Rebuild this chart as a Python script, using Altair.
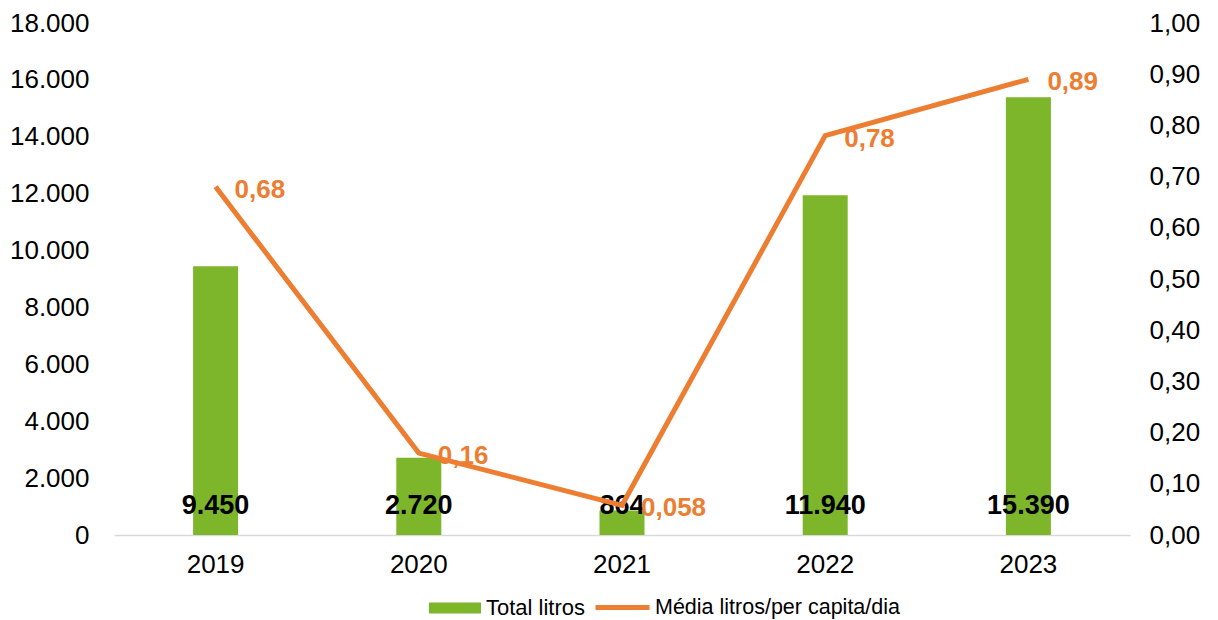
import altair as alt
import pandas as pd

years = ["2019", "2020", "2021", "2022", "2023"]
total_litros = [9450, 2720, 864, 11940, 15390]
media_litros = [0.68, 0.16, 0.058, 0.78, 0.89]
left_ticks = [0, 2000, 4000, 6000, 8000, 10000, 12000, 14000, 16000, 18000]
right_ticks = [0.0, 0.1, 0.2, 0.3, 0.4, 0.5, 0.6, 0.7, 0.8, 0.9, 1.0]
series_bar = "Total litros"
series_line = "Média litros/per capita/dia"

GREEN = "#7DB52B"
ORANGE = "#ED7D31"
FONT = "Liberation Sans"

df = pd.DataFrame({
    "year": years,
    "total": total_litros,
    "media": media_litros,
    "total_lbl": [f"{v:,}".replace(",", ".") for v in total_litros],
    "media_lbl": [str(v).replace(".", ",") for v in media_litros],
    "s_bar": series_bar,
    "s_line": series_line,
    "zero": 0,
})

x_enc = alt.X("year:N", title=None,
              scale=alt.Scale(paddingInner=0, paddingOuter=0),
              axis=alt.Axis(labelAngle=0, ticks=False, domainColor="#D9D9D9",
                            domainWidth=1.5, labelPadding=16, labelFontSize=26,
                            labelFont=FONT, labelColor="#000000"))

left_scale = alt.Scale(domain=[0, 18000], nice=False)
right_scale = alt.Scale(domain=[0, 1], nice=False)

bars = alt.Chart(df).mark_bar(size=45).encode(
    x=x_enc,
    y=alt.Y("total:Q", title=None, scale=left_scale,
            axis=alt.Axis(values=left_ticks, grid=False, domain=False, ticks=False,
                          labelPadding=25, labelFontSize=26, labelFont=FONT,
                          labelColor="#000000",
                          labelExpr="replace(format(datum.value, ',d'), ',', '.')")),
    color=alt.Color("s_bar:N", scale=alt.Scale(domain=[series_bar], range=[GREEN]),
                    legend=alt.Legend(title=None, orient="none", legendX=315, legendY=559,
                                      symbolType="M-1,-0.21H1V0.21H-1Z", symbolSize=2704,
                                      symbolStrokeWidth=0, labelFontSize=22, labelFont=FONT,
                                      labelColor="#000000", labelOffset=5, labelLimit=0)),
)

bar_text = alt.Chart(df).mark_text(fontSize=27, fontWeight="bold", font=FONT,
                                   color="#000000", baseline="middle", dy=-29).encode(
    x=alt.X("year:N"),
    y=alt.Y("zero:Q", scale=left_scale),
    text="total_lbl:N",
)

line = alt.Chart(df).mark_line(strokeWidth=5).encode(
    x=alt.X("year:N"),
    y=alt.Y("media:Q", title=None, scale=right_scale,
            axis=alt.Axis(orient="right", values=right_ticks, grid=False, domain=False,
                          ticks=False, labelPadding=19, labelFontSize=26, labelFont=FONT,
                          labelColor="#000000",
                          labelExpr="replace(format(datum.value, '.2f'), '.', ',')")),
    stroke=alt.Stroke("s_line:N", scale=alt.Scale(domain=[series_line], range=[ORANGE]),
                      legend=alt.Legend(title=None, orient="none", legendX=479, legendY=555,
                                        symbolType="stroke", symbolSize=2916,
                                        symbolStrokeWidth=5, labelFontSize=21.5,
                                        labelFont=FONT, labelColor="#000000",
                                        labelOffset=3, labelLimit=0)),
)

line_text = alt.Chart(df).mark_text(fontSize=26, fontWeight="bold", font=FONT,
                                    color=ORANGE, align="left", baseline="middle",
                                    dx=19, dy=3).encode(
    x=alt.X("year:N"),
    y=alt.Y("media:Q", scale=right_scale),
    text="media_lbl:N",
)

left = alt.layer(bars, bar_text)
right = alt.layer(line, line_text)

chart = alt.layer(left, right).resolve_scale(
    y="independent", color="independent", stroke="independent"
).properties(
    width=1016, height=512,
    autosize=alt.AutoSizeParams(type="none"),
    padding={"left": 106, "top": 15, "right": 78, "bottom": 88},
).configure_view(strokeWidth=0)

chart.save("out.html", embed_options={"renderer": "svg", "actions": False})
